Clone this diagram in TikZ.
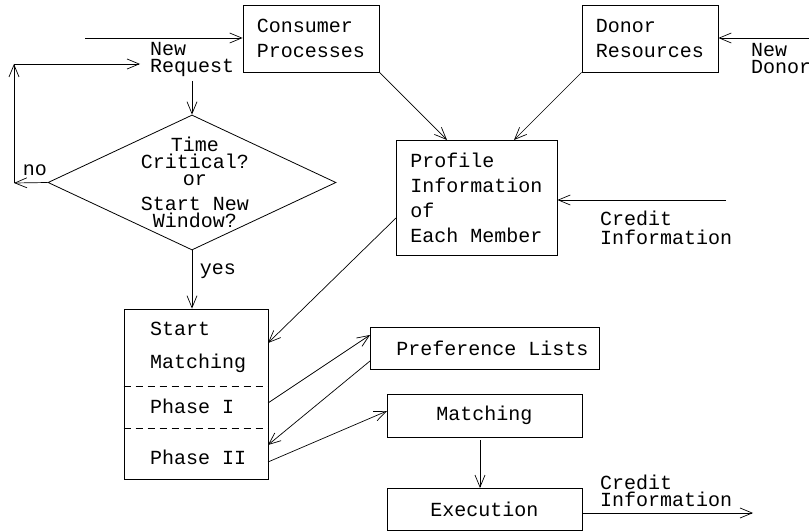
\documentclass[tikz,border=0pt]{standalone}
\usepackage{fontspec}
\newfontfamily\cour{Liberation Mono}
\usetikzlibrary{shapes.geometric,arrows.meta,calc}
\newcommand\txt{\cour\fontsize{20}{25}\selectfont}
\newcommand\txtt{\cour\fontsize{20}{17}\selectfont}
\tikzset{
  box/.style={draw, line width=0.8pt, inner sep=0pt, align=left, font=\txt},
  lbl/.style={inner sep=0pt, align=left, font=\txtt},
  arr/.style={-{Straight Barb[length=12pt,width=10pt]}, line width=0.7pt},
  ln/.style={line width=0.7pt}
}
\begin{document}
\begin{tikzpicture}[x=1pt,y=-1pt]
\useasboundingbox (0,0) rectangle (809,532);
% boxes
\node[box, minimum width=136pt, minimum height=67pt] (cp) at (311,38.5) {Consumer\\Processes};
\node[box, minimum width=136pt, minimum height=67pt] (dr) at (650,38.5) {Donor\\Resources};
\node[box, minimum width=161pt, minimum height=115pt] (prof) at (476.5,197.5) {Profile\\Information\\of\\Each Member};
\node[box, minimum width=229pt, minimum height=42pt] (pref) at (484.5,348) {\hspace*{16pt}Preference Lists};
\node[box, minimum width=195pt, minimum height=43pt] (mt) at (484.5,415.5) {Matching};
\node[box, minimum width=195pt, minimum height=42pt] (ex) at (484.5,509) {Execution};
\node[box, minimum width=144pt, minimum height=170pt] (sm) at (196,394) {};
\draw[ln, dashed, dash pattern=on 7pt off 5pt] (sm.west |- 0,386) -- (sm.east |- 0,386);
\draw[ln, dashed, dash pattern=on 7pt off 5pt] (sm.west |- 0,428) -- (sm.east |- 0,428);
\node[lbl, anchor=west] (t1) at (150,329) {Start};
\node[lbl, anchor=west] (t2) at (150,363) {Matching};
\node[lbl, anchor=west] (t3) at (150,406) {Phase I};
\node[lbl, anchor=west] (t4) at (150,457) {Phase II};
% diamond
\node[draw, diamond, line width=0.8pt, inner sep=0pt, minimum width=288pt, minimum height=135pt] (dia) at (192,182.5) {};
\node[lbl, align=center] (dt) at (195,182) {Time\\Critical?\\or\\[8pt]Start New\\Window?};
% labels
\node[lbl, anchor=west] (nr) at (150,59) {New\\Request};
\node[lbl, anchor=west] (nd) at (751,58.5) {New\\Donor};
\node[lbl, anchor=west, font=\cour\fontsize{20}{19}\selectfont] (ci) at (600,227.5) {Credit\\Information};
\node[lbl, anchor=west] (co) at (600,490.5) {Credit\\Information};
\node[lbl] (no) at (35,170) {no};
\node[lbl] (yes) at (218,271) {yes};
% coordinates
\coordinate (cin) at (85,38);
\coordinate (din) at (809,38);
\coordinate (crin) at (726,200);
\coordinate (l1) at (14,183);
\coordinate (l2) at (14,64);
\coordinate (l3) at (140,64);
\coordinate (nrb) at (192,81);
\coordinate (cout) at (753,513);
% arrows
\draw[arr] (cin) -- (cin -| cp.west);
\draw[arr] (din) -- (din -| dr.east);
\draw[arr] (cp.south east) -- (447,140);
\draw[arr] (dr.south west) -- (514,140);
\draw[arr] (crin) -- (crin -| prof.east);
\draw[arr] (396,218) -- (268,343);
\draw[arr] (nrb) -- (dia.north);
\draw[arr] (dia.west) -- (l1);
\draw[arr] (l1) -- (l2);
\draw[arr] (l2) -- (l3);
\draw[arr] (dia.south) -- (dia.south |- sm.north);
\draw[arr] (268,403) -- (370,335);
\draw[arr] (370,361) -- (268,445);
\draw[arr] (268,462) -- (387,411);
\draw[arr] (480,440) -- (480 ,488);
\draw[arr] (ex.east |- cout) -- (cout);
\end{tikzpicture}
\end{document}
